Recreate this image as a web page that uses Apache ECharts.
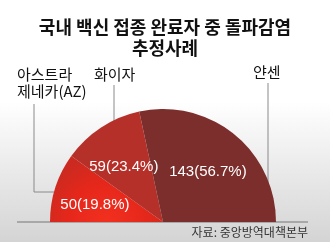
<!DOCTYPE html>
<html>
<head>
<meta charset="utf-8">
<script src="https://cdn.jsdelivr.net/npm/echarts@6/dist/echarts.min.js"></script>
<style>html,body{margin:0;padding:0;background:#fff}#c{width:330px;height:242px}</style>
</head>
<body>
<div id="c"></div>
<script>
var titleText = '국내 백신 접종 완료자 중 돌파감염\n추정사례';
var categories = ['아스트라\n제네카(AZ)', '화이자', '얀센'];
var values = [50, 59, 143];
var percents = [19.8, 23.4, 56.7];
var sourceText = '자료: 중앙방역대책본부';

var colors = [
  {type:'radial', x:0.5, y:1, r:1, colorStops:[{offset:0, color:'#f2301f'},{offset:0.6, color:'#e5271b'},{offset:1, color:'#cc2a20'}]},
  '#b6302a',
  '#7b2e2b'
];
var CX = 163, CY = 222, R = 113;
var KR = '"Noto Sans CJK KR", "Noto Sans", sans-serif';
var NUM = '"Liberation Sans", "Noto Sans CJK KR", sans-serif';

// label placement (layout only)
var namePos = [[17, 66], [94, 66], [253, 64]];
var leaders = [
  [[54, 192], [34, 192], [34, 104]],
  [[114, 121], [114, 105], [114, 85]],
  [[268, 222], [268, 150], [268, 83]]
];

var chart = echarts.init(document.getElementById('c'), null, {renderer:'canvas'});
var data = categories.map(function (n, i) {
  return {name: n, value: values[i], itemStyle: {color: colors[i]}};
});
chart.setOption({
  animation: false,
  backgroundColor: {type:'linear', x:0, y:0, x2:0, y2:1, colorStops:[
    {offset:0, color:'#ffffff'}, {offset:0.42, color:'#ffffff'}, {offset:1, color:'#d4d4d4'}]},
  title: {
    text: titleText, left: 'center', top: 12,
    textStyle: {fontFamily: KR, fontSize: 18, fontWeight: 'bold', color: '#111', lineHeight: 21}
  },
  graphic: [
    {type:'line', shape:{x1:17, y1:CY, x2:308, y2:CY}, style:{stroke:'#777', lineWidth:1}, z:0},
    {type:'text', right: 22, top: 226, style:{text: sourceText, font: '12px ' + KR, fill:'#333'}}
  ],
  series: [
    {
      type: 'pie', center: [CX, CY], radius: [0, R],
      startAngle: 180, endAngle: 0, clockwise: true,
      silent: true, z: 2, avoidLabelOverlap: false,
      data: data,
      label: {
        show: true, position: 'outside', formatter: '{b}', overflow: 'none',
        fontFamily: KR, fontSize: 15, color: '#111', lineHeight: 17
      },
      labelLine: {show: true, lineStyle: {color: '#8a8a8a', width: 1}},
      labelLayout: function (p) {
        var i = p.dataIndex;
        return {x: namePos[i][0], y: namePos[i][1], align: 'left', verticalAlign: 'top',
                width: 120, hideOverlap: false, labelLinePoints: leaders[i]};
      }
    },
    {
      type: 'pie', center: [CX, CY], radius: [24, R],
      startAngle: 180, endAngle: 0, clockwise: true,
      silent: true, z: 3,
      data: categories.map(function (n, i) { return {name: n, value: values[i]}; }),
      itemStyle: {color: 'rgba(0,0,0,0)'},
      label: {
        show: true, position: 'inside', offset: [0, 5],
        formatter: function (p) { return values[p.dataIndex] + '(' + percents[p.dataIndex] + '%)'; },
        fontFamily: NUM, fontSize: 15, color: '#fff'
      },
      labelLine: {show: false}
    }
  ]
});
</script>
</body>
</html>
